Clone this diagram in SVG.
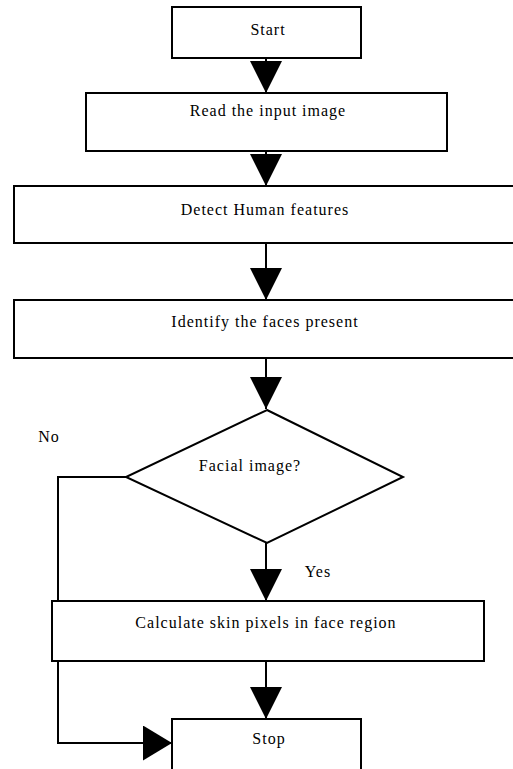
<svg xmlns="http://www.w3.org/2000/svg" width="513" height="769" viewBox="0 0 513 769">
<style>
.box{fill:#fff;stroke:#000;stroke-width:2}
.lbl{font-family:"Liberation Serif","Times New Roman",serif;font-size:16px;letter-spacing:1px;fill:#000;text-anchor:middle}
.edge{fill:none;stroke:#000;stroke-width:2}
</style>
<defs>
<marker id="ah" markerUnits="userSpaceOnUse" viewBox="0 0 32 32" markerWidth="32" markerHeight="32" refX="32" refY="16" orient="auto">
<path d="M0,0 L32,16 L0,32 Z" fill="#000"/>
</marker>
<marker id="ah2" markerUnits="userSpaceOnUse" viewBox="0 0 29 35" markerWidth="29" markerHeight="35" refX="29" refY="17.5" orient="auto">
<path d="M0,0 L29,17.5 L0,35 Z" fill="#000"/>
</marker>
</defs>
<rect width="513" height="769" fill="#fff"/>
<g id="connectors">
<path class="edge" d="M266,53 L266,93" marker-end="url(#ah)"/>
<path class="edge" d="M266,147 L266,186" marker-end="url(#ah)"/>
<path class="edge" d="M266,243 L266,300" marker-end="url(#ah)"/>
<path class="edge" d="M266,358 L266,409" marker-end="url(#ah)"/>
<path class="edge" d="M266,543 L266,601" marker-end="url(#ah)"/>
<path class="edge" d="M266,661 L266,719" marker-end="url(#ah)"/>
<path class="edge" d="M126,477 L58,477 L58,743 L172,743" marker-end="url(#ah2)"/>
<text class="lbl" x="49" y="442">No</text>
<text class="lbl" x="318" y="577">Yes</text>
</g>
<g id="start"><rect class="box" x="172" y="7" width="189" height="51"/><text class="lbl" x="268" y="35">Start</text></g>
<g id="read"><rect class="box" x="86" y="93" width="361" height="58"/><text class="lbl" x="268" y="116">Read the input image</text></g>
<g id="detect"><rect class="box" x="14" y="186" width="505" height="57"/><text class="lbl" x="265" y="215">Detect Human features</text></g>
<g id="identify"><rect class="box" x="14" y="300" width="505" height="58"/><text class="lbl" x="265" y="327">Identify the faces present</text></g>
<g id="decision"><polygon class="box" points="267,410 403,477 267,543 126,477"/><text class="lbl" x="250" y="471">Facial image?</text></g>
<g id="calculate"><rect class="box" x="52" y="601" width="432" height="60"/><text class="lbl" x="266" y="628">Calculate skin pixels in face region</text></g>
<g id="stop"><rect class="box" x="172" y="719" width="189" height="60"/><text class="lbl" x="269" y="744">Stop</text></g>
</svg>
